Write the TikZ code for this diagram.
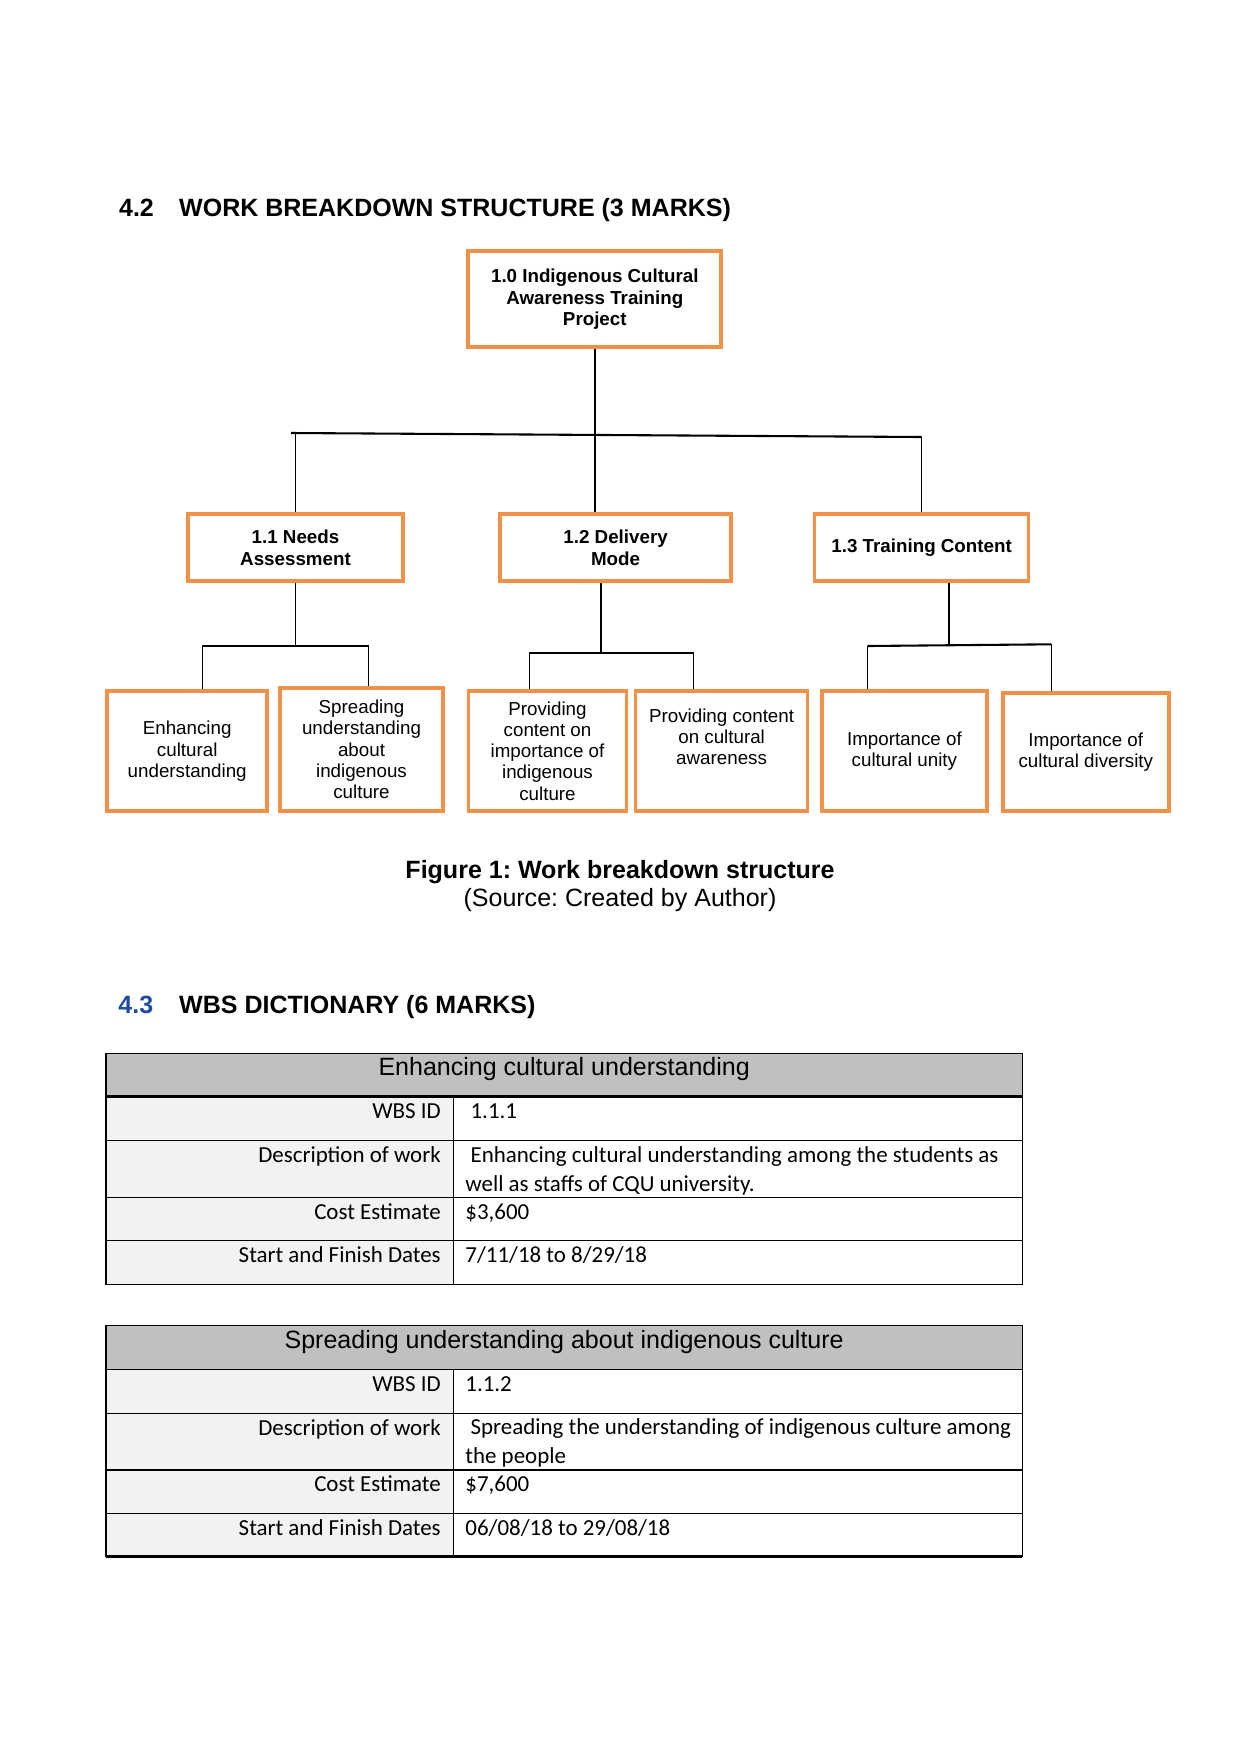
\documentclass[tikz,border=0pt]{standalone}
\usepackage{fontspec}
\setmainfont{Liberation Sans}
\newfontfamily\calibri{Carlito}
\usetikzlibrary{positioning}
\definecolor{wbsorange}{RGB}{242,146,72}
\definecolor{secblue}{RGB}{30,76,160}
\definecolor{hdrgray}{RGB}{192,192,192}
\definecolor{lblgray}{RGB}{242,242,242}
\newcommand{\pxu}{0.47968pt}
\tikzset{boxsize/.style 2 args={minimum width=#1*\pxu,minimum height=#2*\pxu}}
\frenchspacing

\begin{document}
\begin{tikzpicture}[x=\pxu,y=-\pxu]
  \tikzstyle{wbs}=[draw=wbsorange,line width=1.8pt,align=center,inner sep=1pt]
  \tikzstyle{rootbox}=[wbs,font=\fontsize{9}{10.3}\selectfont\bfseries]
  \tikzstyle{midbox}=[wbs,font=\fontsize{9}{10.6}\selectfont\bfseries]
  \tikzstyle{leaf}=[wbs,font=\fontsize{9}{10.2}\selectfont]
  \tikzstyle{link}=[draw,line width=0.7pt]
  \tikzstyle{bar}=[draw,line width=1pt]
  \tikzstyle{heading}=[anchor=base west,inner sep=0pt,font=\fontsize{12}{14}\selectfont\bfseries]
  \tikzstyle{tblline}=[line width=0.6pt]
  \tikzstyle{hdrtext}=[anchor=base,inner sep=0pt,font=\fontsize{12}{14}\selectfont]
  \tikzstyle{lbl}=[anchor=base east,inner sep=0pt,font=\calibri\fontsize{11}{13.6}\selectfont]
  \tikzstyle{val}=[anchor=base west,inner sep=0pt,align=left,font=\calibri\fontsize{11}{13.6}\selectfont]
  \useasboundingbox (0,0) rectangle (1241,1754);

  % section 4.2
  \node[heading] (sec42num) at (118.7,216.7) {4.2};
  \node[heading] (sec42) at (178.8,216.7) {WORK BREAKDOWN STRUCTURE (3 MARKS)};

  % wbs boxes
  \node[rootbox,boxsize={253}{96}] (proj) at (594.8,299.3) {1.0 Indigenous Cultural\\Awareness Training\\Project};
  \node[midbox,boxsize={215}{67}] (needs) at (295.5,547.8) {1.1 Needs\\Assessment};
  \node[midbox,boxsize={230.6}{67}] (delivery) at (615.6,547.8) {1.2 Delivery\\Mode};
  \node[midbox,boxsize={214}{67}] (content) at (921.6,547.8) {1.3 Training Content};

  \node[leaf,boxsize={160}{120}] (enhance) at (187.2,751.3) {Enhancing\\cultural\\understanding};
  \node[leaf,boxsize={163}{123}] (spread) at (361.5,749.5) {Spreading\\understanding\\about\\indigenous\\culture};
  \node[leaf,boxsize={158}{120}] (provimp) at (547.5,751) {Providing\\content on\\importance of\\indigenous\\culture};
  \node[leaf,boxsize={172}{120}] (provaware) at (721.6,751) {};
  \node[leaf,draw=none] (provawaretxt) at (721.6,737) {Providing content\\on cultural\\awareness};
  \node[leaf,boxsize={165}{120}] (unity) at (904.4,751) {Importance of\\cultural unity};
  \node[leaf,boxsize={166}{118}] (diversity) at (1085.8,752) {Importance of\\cultural diversity};

  % connectors level 1
  \coordinate (barL) at (291,433);
  \coordinate (barR) at (921.6,437);
  \draw[bar] (barL) -- (barR);
  \draw[link] (proj.south) -- (proj.south |- delivery.north);
  \draw[link] (needs.north) -- (needs.north |- barL);
  \draw[link] (content.north) -- (content.north |- barR);

  % connectors level 2
  \coordinate (b1L) at (202.3,645.7);
  \coordinate (b1R) at (368.6,645.7);
  \draw[bar] (b1L) -- (b1R);
  \draw[link] (needs.south) -- (needs.south |- b1L);
  \draw[link] (b1L) -- (b1L |- enhance.north);
  \draw[link] (b1R) -- (b1R |- spread.north);

  \coordinate (b2L) at (529.3,652.7);
  \coordinate (b2M) at (601,652.7);
  \coordinate (b2R) at (693.5,652.7);
  \draw[bar] (b2L) -- (b2R);
  \draw[link] (b2M |- delivery.south) -- (b2M);
  \draw[link] (b2L) -- (b2L |- provimp.north);
  \draw[link] (b2R) -- (b2R |- provaware.north);

  \coordinate (b3L) at (867.5,646);
  \coordinate (b3M) at (949,645);
  \coordinate (b3R) at (1051.4,644.3);
  \draw[bar] (b3L) -- (b3R);
  \draw[link] (b3M |- content.south) -- (b3M);
  \draw[link] (b3L) -- (b3L |- unity.north);
  \draw[link] (b3R) -- (b3R |- diversity.north);

  % caption
  \node[anchor=base,inner sep=0pt,font=\fontsize{12}{14}\selectfont\bfseries] (cap) at (620,878.3) {Figure 1: Work breakdown structure};
  \node[anchor=base,inner sep=0pt,font=\fontsize{12}{14}\selectfont] (capsrc) at (620,906.7) {(Source: Created by Author)};

  % section 4.3
  \node[heading,text=secblue] (sec43num) at (118,1013.3) {4.3};
  \node[heading] (sec43) at (178.8,1013.3) {WBS DICTIONARY (6 MARKS)};

  % dictionary table 1
  \fill[hdrgray] (106,1053.3) rectangle (1022.4,1096.7);
  \fill[lblgray] (106,1096.7) rectangle (453.3,1284.3);
  \draw[tblline] (106,1053.3) rectangle (1022.4,1284.3);
  \draw[tblline,line width=1.3pt] (106,1096.7) -- (1022.4,1096.7);
  \foreach \ry in {1140.7,1197.3,1240.3}
    \draw[tblline] (106,\ry) -- (1022.4,\ry);
  \draw[tblline] (453.3,1096.7) -- (453.3,1284.3);
  \node[hdrtext] (t1head) at (564.2,1075) {Enhancing cultural understanding};
  \node[lbl] (t1idl) at (441.2,1118.3) {WBS ID};
  \node[val] (t1id) at (465,1118.3) {\ 1.1.1};
  \node[lbl] (t1descl) at (441.2,1162.7) {Description of work};
  \node[val] (t1desc) at (465,1191) {\ Enhancing cultural understanding among the students as\\well as staffs of CQU university.};
  \node[lbl] (t1costl) at (441.2,1219.3) {Cost Estimate};
  \node[val] (t1cost) at (465,1219.3) {\$3,600};
  \node[lbl] (t1datel) at (441.2,1262.7) {Start and Finish Dates};
  \node[val] (t1date) at (465,1262.7) {7/11/18 to 8/29/18};

  % dictionary table 2
  \fill[hdrgray] (106,1325.7) rectangle (1022.4,1369.3);
  \fill[lblgray] (106,1369.3) rectangle (453.3,1556.7);
  \draw[tblline] (106,1325.7) rectangle (1022.4,1556.7);
  \foreach \ry in {1369.3,1413.3,1470,1513.3}
    \draw[tblline] (106,\ry) -- (1022.4,\ry);
  \draw[tblline,line width=1.3pt] (106,1556.7) -- (1022.4,1556.7);
  \draw[tblline] (453.3,1369.3) -- (453.3,1556.7);
  \node[hdrtext] (t2head) at (564.2,1348.3) {Spreading understanding about indigenous culture};
  \node[lbl] (t2idl) at (441.2,1391.7) {WBS ID};
  \node[val] (t2id) at (465,1391.7) {1.1.2};
  \node[lbl] (t2descl) at (441.2,1435) {Description of work};
  \node[val] (t2desc) at (465,1463.3) {\ Spreading the understanding of indigenous culture among\\the people};
  \node[lbl] (t2costl) at (441.2,1491.7) {Cost Estimate};
  \node[val] (t2cost) at (465,1491.7) {\$7,600};
  \node[lbl] (t2datel) at (441.2,1535) {Start and Finish Dates};
  \node[val] (t2date) at (465,1535) {06/08/18 to 29/08/18};
\end{tikzpicture}
\end{document}
